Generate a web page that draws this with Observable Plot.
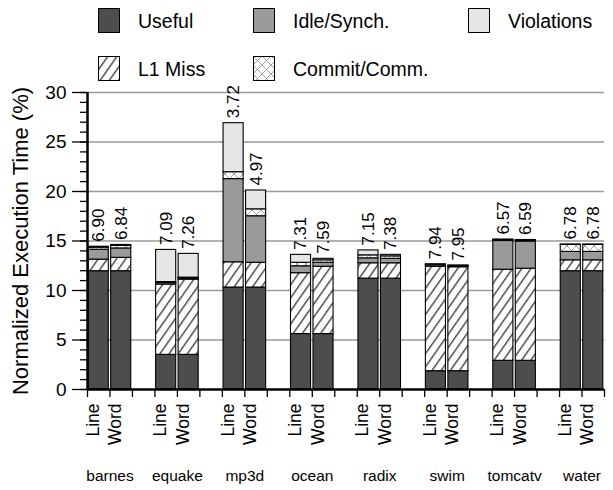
<!DOCTYPE html>
<html><head><meta charset="utf-8">
<script src="https://cdn.jsdelivr.net/npm/d3@7"></script>
<script src="https://cdn.jsdelivr.net/npm/@observablehq/plot@0.6"></script>
<style>
body{margin:0;background:#fff;font-family:"Liberation Sans",Arial,sans-serif;}
#legend{position:relative;width:613px;height:84px;}
.sw{position:absolute;}
.lt{position:absolute;font-size:19.5px;line-height:24px;color:#000;white-space:nowrap;}
#chart svg{overflow:visible;display:block;}
</style></head><body>
<svg width="0" height="0" style="position:absolute">
  <defs>
    <pattern id="hatch" patternUnits="userSpaceOnUse" width="7.5" height="8" patternTransform="rotate(35)">
      <rect x="-1" y="-1" width="10" height="10" fill="#fff"/>
      <path d="M0.75,-1 V9" stroke="#222" stroke-width="1.2"/>
    </pattern>
    <pattern id="cross" patternUnits="userSpaceOnUse" width="9" height="9">
      <rect width="9" height="9" fill="#fff"/>
      <path d="M0,0 L9,9 M0,9 L9,0" stroke="#999" stroke-width="0.9"/>
    </pattern>
  </defs>
</svg>
<div id="legend"></div>
<div id="chart"></div>
<script>
const benchmarks = ["barnes","equake","mp3d","ocean","radix","swim","tomcatv","water"];
const variants = ["Line","Word"];
const categories = ["Useful","L1 Miss","Idle/Synch.","Commit/Comm.","Violations"];
// order: barnes Line, barnes Word, equake Line, equake Word, ...
const useful     = [11.95,11.95, 3.5,3.5, 10.3,10.3, 5.6,5.6, 11.2,11.2, 1.85,1.85, 2.9,2.9, 11.95,11.95];
const l1Miss     = [1.17,1.35, 7.1,7.6, 2.55,2.5, 6.15,6.8, 1.55,1.55, 10.55,10.5, 9.2,9.3, 1.1,1.1];
const idleSynch  = [1.0,0.95, 0.15,0.1, 8.4,4.7, 0.7,0.4, 0.5,0.45, 0.15,0.1, 2.9,2.75, 0.85,0.85];
const commitComm = [0.2,0.25, 0.1,0.1, 0.7,0.7, 0.35,0.25, 0.3,0.25, 0.05,0.05, 0.1,0.1, 0.7,0.7];
const violations = [0.1,0.1, 3.25,2.4, 4.95,1.9, 0.8,0.15, 0.5,0.15, 0.05,0.02, 0.05,0.05, 0.05,0.05];
const barLabels  = ["6.90","6.84","7.09","7.26","3.72","4.97","7.31","7.59","7.15","7.38","7.94","7.95","6.57","6.59","6.78","6.78"];
const yTicks = [0,5,10,15,20,25,30];
const yTitle = "Normalized Execution Time (%)";

const fills = {"Useful":"#4d4d4d","L1 Miss":"url(#hatch)","Idle/Synch.":"#9a9a9a","Commit/Comm.":"url(#cross)","Violations":"#e6e6e6"};
const series = [useful,l1Miss,idleSynch,commitComm,violations];

const rows = [], tops = [];
benchmarks.forEach((b,g)=>variants.forEach((v,j)=>{
  const k = g*2+j, slot = g*3+j;
  let acc = 0;
  categories.forEach((c,ci)=>{ const val = series[ci][k]; rows.push({slot, cat:c, y1:acc, y2:acc+val}); acc += val; });
  tops.push({slot, top:acc, label:barLabels[k], variant:v});
}));
const nSlots = benchmarks.length*3 - 1;

// legend
const legendRows = [["Useful","Idle/Synch.","Violations"],["L1 Miss","Commit/Comm."]];
const colLeft = [98,253,468];
const rowTop = [8,56];
const leg = document.getElementById("legend");
legendRows.forEach((r,ri)=>r.forEach((c,ci)=>{
  const s = document.createElementNS("http://www.w3.org/2000/svg","svg");
  s.setAttribute("class","sw"); s.setAttribute("width",23); s.setAttribute("height",26);
  s.style.left = colLeft[ci]+"px"; s.style.top = rowTop[ri]+"px";
  s.innerHTML = `<rect x="0.5" y="0.5" width="21" height="24" fill="${fills[c]}" stroke="#000" stroke-width="1"/>`;
  leg.appendChild(s);
  const t = document.createElement("div");
  t.className = "lt"; t.textContent = c;
  t.style.left = (colLeft[ci]+40)+"px"; t.style.top = (rowTop[ri]+1)+"px";
  leg.appendChild(t);
}));

const chart = Plot.plot({
  width:613, height:406,
  marginTop:8, marginBottom:101, marginLeft:87, marginRight:9,
  x:{domain:[0,nSlots], axis:null},
  y:{domain:[0,30], axis:null},
  style:{fontFamily:"'Liberation Sans',Arial,sans-serif", background:"white", overflow:"visible", color:"#000"},
  marks:[
    Plot.ruleY(yTicks.slice(1), {stroke:"#9a9a9a", strokeWidth:1.3}),
    ...categories.map(c => Plot.rectY(rows.filter(r=>r.cat===c), {
      x1:"slot", x2:d=>d.slot+1, y1:"y1", y2:"y2", fill:fills[c],
      stroke:"#000", strokeWidth:1.1, insetLeft:1.2, insetRight:1.2
    })),
    Plot.axisY(d3.range(0,31), {tickSize:7, tickFormat:()=>"", strokeWidth:1.3, label:null}),
    Plot.axisY(yTicks, {tickSize:15, tickPadding:6, fontSize:19, strokeWidth:1.3, label:null}),
    Plot.axisX(d3.range(0,nSlots+1), {tickSize:8, tickFormat:()=>"", strokeWidth:1.3, label:null}),
    Plot.ruleX([0], {strokeWidth:2.5}),
    Plot.ruleY([0], {strokeWidth:2.5}),
    Plot.text(tops, {x:d=>d.slot+0.5, y:"top", text:"label", rotate:-90, textAnchor:"start", dy:-5, fontSize:17}),
    Plot.text(tops, {x:d=>d.slot+0.5, text:"variant", frameAnchor:"bottom", rotate:-90, textAnchor:"end", dy:14, fontSize:17.5}),
    Plot.text(benchmarks, {x:(d,i)=>i*3+1, text:d=>d, frameAnchor:"bottom", dy:91, fontSize:15.5}),
    Plot.text([yTitle], {text:d=>d, frameAnchor:"left", rotate:-90, textAnchor:"middle", dx:-67, fontSize:22})
  ]
});
document.getElementById("chart").appendChild(chart);
</script>
</body></html>
